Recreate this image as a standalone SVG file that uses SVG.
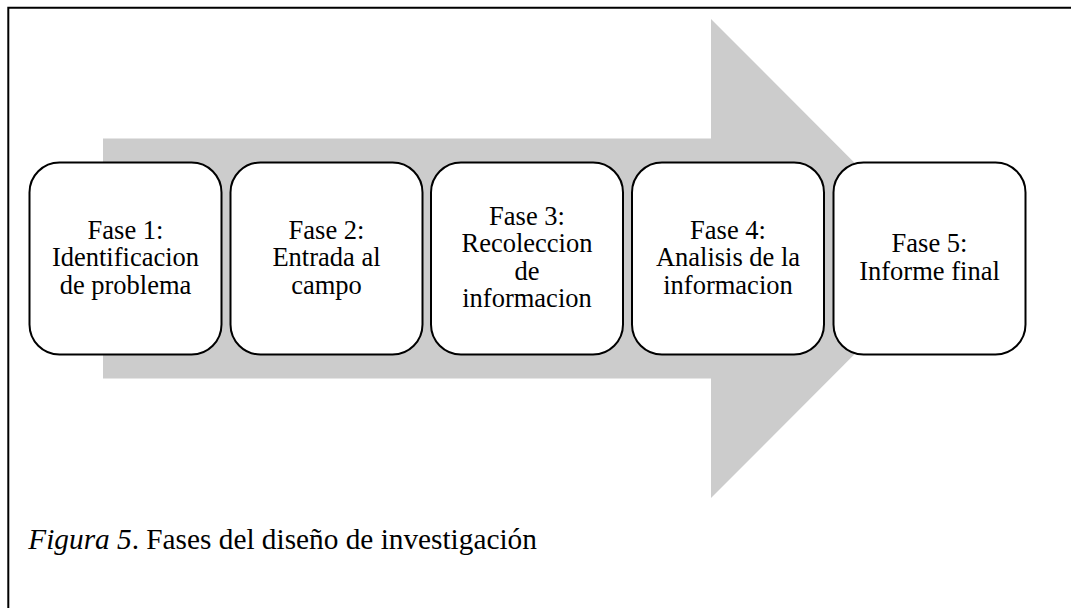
<svg xmlns="http://www.w3.org/2000/svg" width="1071" height="608" viewBox="0 0 1071 608">
<style>
.box{fill:#ffffff;stroke:#000000;stroke-width:2}
.t{font-size:26.5px;fill:#000000;text-anchor:middle}
.cap{font-size:29.3px;fill:#000000}
</style>
<rect x="0" y="0" width="1071" height="608" fill="#ffffff"/>
<path d="M8.3 608 V7.7 H1071" fill="none" stroke="#000000" stroke-width="2"/>
<g id="connectors">
<polygon id="arrow" points="103,138.5 711,138.5 711,19 950,258.5 711,498 711,378.5 103,378.5" fill="#cccccc"/>
</g>
<g font-family="'Liberation Serif', Tinos, 'DejaVu Serif', serif">
<g id="fase1">
<rect class="box" x="29.5" y="162.5" width="192" height="192" rx="30" ry="30"/>
<text class="t" x="125.5" y="238.5">Fase 1:</text>
<text class="t" x="125.5" y="266">Identificacion</text>
<text class="t" x="125.5" y="293.5">de problema</text>
</g>
<g id="fase2">
<rect class="box" x="230.5" y="162.5" width="192" height="192" rx="30" ry="30"/>
<text class="t" x="326.5" y="238.5">Fase 2:</text>
<text class="t" x="326.5" y="266">Entrada al</text>
<text class="t" x="326.5" y="293.5">campo</text>
</g>
<g id="fase3">
<rect class="box" x="431" y="162.5" width="192" height="192" rx="30" ry="30"/>
<text class="t" x="527" y="224.5">Fase 3:</text>
<text class="t" x="527" y="252">Recoleccion</text>
<text class="t" x="527" y="279.5">de</text>
<text class="t" x="527" y="307">informacion</text>
</g>
<g id="fase4">
<rect class="box" x="632" y="162.5" width="192" height="192" rx="30" ry="30"/>
<text class="t" x="728" y="238.5">Fase 4:</text>
<text class="t" x="728" y="266">Analisis de la</text>
<text class="t" x="728" y="293.5">informacion</text>
</g>
<g id="fase5">
<rect class="box" x="833.5" y="162.5" width="192" height="192" rx="30" ry="30"/>
<text class="t" x="929.5" y="252">Fase 5:</text>
<text class="t" x="929.5" y="279.5">Informe final</text>
</g>
<text class="cap" x="28.3" y="549.3"><tspan font-style="italic">Figura 5</tspan>. Fases del diseño de investigación</text>
</g>
</svg>
